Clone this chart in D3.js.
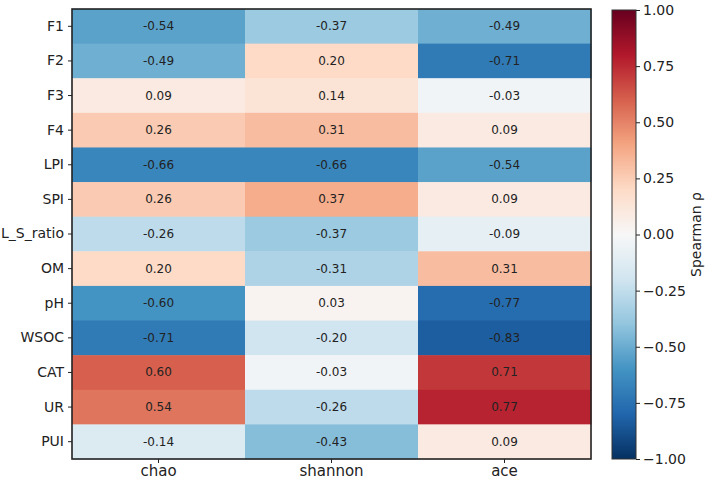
<!DOCTYPE html>
<html>
<head>
<meta charset="utf-8">
<script src="https://cdn.jsdelivr.net/npm/d3@7"></script>
<style>
  body { margin: 0; background: #fff; }
  text { font-family: "DejaVu Sans", sans-serif; fill: #222; }
</style>
</head>
<body>
<div id="chart"></div>
<script>
const rows = ["F1", "F2", "F3", "F4", "LPI", "SPI", "L_S_ratio", "OM", "pH", "WSOC", "CAT", "UR", "PUI"];
const cols = ["chao", "shannon", "ace"];
const chao = [-0.54, -0.49, 0.09, 0.26, -0.66, 0.26, -0.26, 0.20, -0.60, -0.71, 0.60, 0.54, -0.14];
const shannon = [-0.37, 0.20, 0.14, 0.31, -0.66, 0.37, -0.37, -0.31, 0.03, -0.20, -0.03, -0.26, -0.43];
const ace = [-0.49, -0.71, -0.03, 0.09, -0.54, 0.09, -0.09, 0.31, -0.77, -0.83, 0.71, 0.77, 0.09];
const cbTicks = [1.00, 0.75, 0.50, 0.25, 0.00, -0.25, -0.50, -0.75, -1.00];

const w = 708, h = 479;
const pLeft = 72, pRight = 591, pTop = 9, pBottom = 459;

// matplotlib RdBu_r, linear segments
const rdbu = ["#053061", "#2166ac", "#4393c3", "#92c5de", "#d1e5f0", "#f7f7f7",
              "#fddbc7", "#f4a582", "#d6604d", "#b2182b", "#67001f"];
const color = d3.scaleLinear()
                .domain(d3.range(11).map(i => -1 + i * 0.2))
                .range(rdbu)
                .interpolate(d3.interpolateRgb)
                .clamp(true);

const series = { chao: chao, shannon: shannon, ace: ace };
const cells = [];
cols.forEach(c => series[c].forEach((v, i) => cells.push({ row: rows[i], col: c, v: v })));

const xScale = d3.scaleBand().domain(cols).range([pLeft, pRight]);
const yScale = d3.scaleBand().domain(rows).range([pTop, pBottom]);

const svg = d3.select("#chart").append("svg").attr("width", w).attr("height", h);

svg.selectAll("rect.cell")
   .data(cells)
   .enter()
   .append("rect")
   .attr("class", "cell")
   .attr("x", d => xScale(d.col))
   .attr("y", d => yScale(d.row))
   .attr("width", xScale.bandwidth() + 0.5)
   .attr("height", yScale.bandwidth() + 0.5)
   .attr("fill", d => color(d.v));

svg.selectAll("text.val")
   .data(cells)
   .enter()
   .append("text")
   .attr("class", "val")
   .attr("x", d => xScale(d.col) + xScale.bandwidth() / 2)
   .attr("y", d => yScale(d.row) + yScale.bandwidth() / 2)
   .attr("text-anchor", "middle")
   .attr("dominant-baseline", "central")
   .style("font-size", "12px")
   .text(d => d.v.toFixed(2));

svg.append("rect")
   .attr("x", pLeft).attr("y", pTop)
   .attr("width", pRight - pLeft).attr("height", pBottom - pTop)
   .attr("fill", "none").attr("stroke", "#222").attr("stroke-width", 1.6);

const yAxis = svg.append("g")
                 .attr("transform", "translate(" + pLeft + ",0)")
                 .call(d3.axisLeft(yScale).tickSize(4).tickPadding(4));
const xAxis = svg.append("g")
                 .attr("transform", "translate(0," + pBottom + ")")
                 .call(d3.axisBottom(xScale).tickSize(4).tickPadding(2));
[xAxis, yAxis].forEach(g => {
  g.select(".domain").remove();
  g.selectAll(".tick line").attr("stroke", "#222").attr("stroke-width", 1);
  g.selectAll(".tick text").style("font-size", "14px").attr("fill", "#222");
});
xAxis.selectAll(".tick text").style("font-size", "15px");

// colorbar
const cbL = 612, cbW = 24, cbTop = 10, cbBot = 459;
const cbScale = d3.scaleLinear().domain([-1, 1]).range([cbBot, cbTop]);
const defs = svg.append("defs");
const grad = defs.append("linearGradient")
                 .attr("id", "cbgrad")
                 .attr("x1", 0).attr("y1", 1).attr("x2", 0).attr("y2", 0);
grad.selectAll("stop")
    .data(rdbu)
    .enter()
    .append("stop")
    .attr("offset", (d, i) => i / 10)
    .attr("stop-color", d => d);

svg.append("rect")
   .attr("x", cbL).attr("y", cbTop)
   .attr("width", cbW).attr("height", cbBot - cbTop)
   .attr("fill", "url(#cbgrad)")
   .attr("stroke", "#333").attr("stroke-width", 1);

const cbAxis = svg.append("g")
                  .attr("transform", "translate(" + (cbL + cbW) + ",0)")
                  .call(d3.axisRight(cbScale).tickValues(cbTicks).tickSize(4).tickPadding(3)
                          .tickFormat(d => d3.format(".2f")(d).replace("-", "\u2212")));
cbAxis.select(".domain").remove();
cbAxis.selectAll(".tick line").attr("stroke", "#222");
cbAxis.selectAll(".tick text").style("font-size", "14px").attr("fill", "#222");

svg.append("text")
   .attr("transform", "translate(696," + ((cbTop + cbBot) / 2) + ") rotate(-90)")
   .attr("text-anchor", "middle")
   .attr("dominant-baseline", "central")
   .style("font-size", "14px")
   .text("Spearman ρ");
</script>
</body>
</html>
